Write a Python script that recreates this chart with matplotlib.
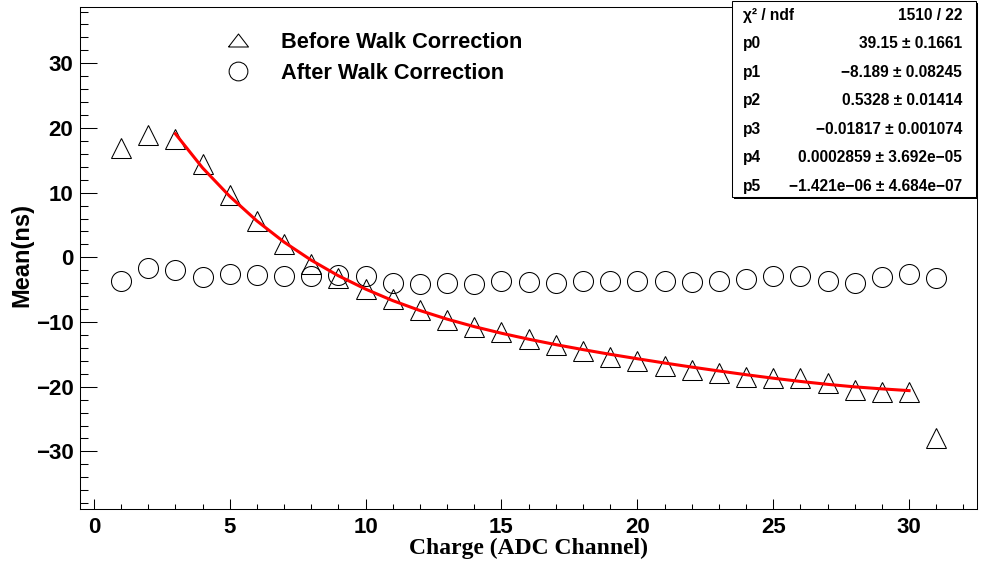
import matplotlib
matplotlib.use('Agg')
import matplotlib.pyplot as plt
from matplotlib.lines import Line2D
from matplotlib.patches import Rectangle
from matplotlib.ticker import MultipleLocator

plt.rcParams['font.family'] = ['Liberation Sans', 'DejaVu Sans']
plt.rcParams['font.weight'] = 'bold'

# mean time vs ADC channel
charge = list(range(1, 32))
before = [16.85, 18.9, 18.35, 14.4, 9.7, 5.66, 2.07, -1.1, -3.16, -4.86,
          -6.4, -8.1, -9.66, -10.75, -11.5, -12.6, -13.55, -14.45, -15.4, -16.0,
          -16.8, -17.4, -17.9, -18.5, -18.7, -18.66, -19.45, -20.5, -20.85, -20.85,
          -28.0]
after = [-3.62, -1.6, -1.9, -3.1, -2.53, -2.69, -2.89, -2.89, -2.79, -2.89,
         -3.98, -4.08, -3.93, -4.19, -3.72, -3.82, -3.93, -3.72, -3.62, -3.62,
         -3.62, -3.77, -3.62, -3.3, -2.84, -2.84, -3.62, -3.93, -3.0, -2.53,
         -3.15]

# pol5 fit curve (red)
fit_x = list(range(3, 31))
fit_y = [19.1, 13.83, 9.43, 5.63, 2.36, -0.44, -2.85, -4.91, -6.69, -8.22,
         -9.55, -10.71, -11.73, -12.65, -13.49, -14.26, -14.99, -15.67, -16.33,
         -16.96, -17.56, -18.14, -18.68, -19.18, -19.63, -20.02, -20.33, -20.6]

stat_names = ['\u03c7\u00b2 / ndf', 'p0', 'p1', 'p2', 'p3', 'p4', 'p5']
stat_vals = ['1510 / 22',
             '39.15 \u00b1 0.1661',
             '\u22128.189 \u00b1 0.08245',
             '0.5328 \u00b1 0.01414',
             '\u22120.01817 \u00b1 0.001074',
             '0.0002859 \u00b1 3.692e\u221205',
             '\u22121.421e\u221206 \u00b1 4.684e\u221207']

W, H = 986, 567
fig = plt.figure(figsize=(W / 100, H / 100), dpi=100)
ax = fig.add_axes([80.3 / W, 1 - 509 / H, (977 - 80.3) / W, (509 - 7) / H])

ax.plot(fit_x, fit_y, color='red', lw=2.2, zorder=3)
ax.plot(charge, before, ls='none', marker='^', ms=14.4, mfc='none',
        mec='black', mew=0.75, zorder=2)
ax.plot(charge, after, ls='none', marker='o', ms=14.4, mfc='none',
        mec='black', mew=0.75, zorder=2)

ax.set_xlim(-0.5, 32.5)
ax.set_ylim(-38.9, 38.7)
ax.xaxis.set_major_locator(MultipleLocator(5))
ax.xaxis.set_minor_locator(MultipleLocator(1))
ax.yaxis.set_major_locator(MultipleLocator(10))
ax.yaxis.set_minor_locator(MultipleLocator(2))
ax.tick_params(which='both', direction='in', top=False, right=False,
               width=0.75, labelsize=16)
ax.tick_params(axis='x', which='major', length=7.2, pad=6)
ax.tick_params(axis='x', which='minor', length=3.6)
ax.tick_params(axis='y', which='major', length=12.5, pad=5)
ax.tick_params(axis='y', which='minor', length=6)
for s in ax.spines.values():
    s.set_linewidth(0.75)

ax.set_xlabel('Charge (ADC Channel)', family=['Liberation Serif'],
              fontsize=17, fontweight='bold')
ax.xaxis.set_label_coords(0.5, -0.057)
ax.set_ylabel('Mean(ns)', fontsize=17, fontweight='bold')
ax.yaxis.set_label_coords(-0.0527, 0.505)

# legend
tri = [(-1, -0.65), (1, -0.65), (0, 0.65), (-1, -0.65)]
handles = [Line2D([], [], ls='none', marker=tri, ms=14.4, mfc='none',
                  mec='black', mew=0.75),
           Line2D([], [], ls='none', marker='o', ms=13.5, mfc='none',
                  mec='black', mew=0.75)]
fs_leg = 15.7
px_leg = fs_leg * 100 / 72
fig.legend(handles, ['Before Walk Correction', 'After Walk Correction'],
           loc='upper left', bbox_to_anchor=((238 - px_leg) / W, 1 - 32 / H),
           bbox_transform=fig.transFigure, frameon=False, fontsize=fs_leg,
           handlelength=2, handletextpad=43 / px_leg - 1, borderpad=0,
           borderaxespad=0, labelspacing=0.45)

# stats box
bx0, by0, bx1, by1 = 732, 1, 976, 197
fig.patches.append(Rectangle(((bx0 + 2) / W, 1 - (by1 + 2) / H),
                             (bx1 - bx0) / W, (by1 - by0) / H,
                             transform=fig.transFigure, fc='black', ec='none'))
fig.patches.append(Rectangle((bx0 / W, 1 - by1 / H),
                             (bx1 - bx0) / W, (by1 - by0) / H,
                             transform=fig.transFigure, fc='white',
                             ec='black', lw=0.75))
for i in range(len(stat_names)):
    yb = 1 - (14.7 + 28.55 * i + 5) / H
    fig.text(743 / W, yb, stat_names[i], fontsize=11.2, va='baseline', ha='left')
    fig.text(962 / W, yb, stat_vals[i], fontsize=11.2, va='baseline', ha='right')

fig.savefig('out.png', dpi=100)
